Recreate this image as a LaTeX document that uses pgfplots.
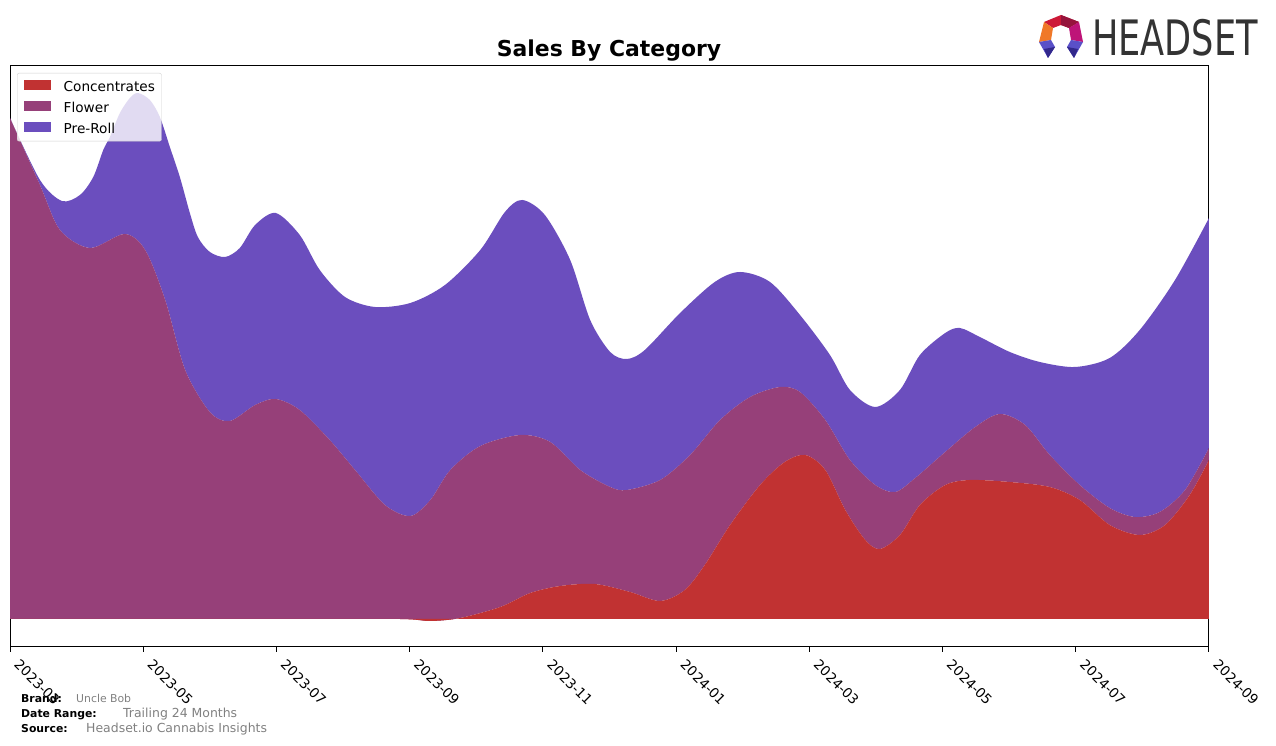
\documentclass[border=0pt]{standalone}
\usepackage{pgfplots}
\pgfplotsset{compat=1.18}
\usepgfplotslibrary{fillbetween}
\usepackage{fontspec}
\setmainfont{DejaVu Sans}
\definecolor{conc}{RGB}{193,50,50}
\definecolor{flower}{RGB}{150,64,121}
\definecolor{preroll}{RGB}{107,78,190}
\definecolor{foot}{RGB}{128,128,128}
\newcommand{\legpatch}[1]{\path[draw=none, fill=none] (0bp,-0.5bp) rectangle (27bp,9.5bp);\begin{pgfinterruptboundingbox}\path[fill=#1, draw=none, fill opacity=1, sharp corners] (0bp,-2.5bp) rectangle (27bp,7.5bp);\end{pgfinterruptboundingbox}}
\begin{document}
\begin{tikzpicture}[x=1bp,y=1bp]
\path (0,0) rectangle (1276,746);
\begin{axis}[
  at={(10bp,99bp)}, anchor=south west,
  width=1199bp, height=581bp, scale only axis,
  xmin=0, xmax=18, ymin=-28, ymax=553,
  xtick={0,2,...,18},
  xticklabels={2023-03,2023-05,2023-07,2023-09,2023-11,2024-01,2024-03,2024-05,2024-07,2024-09},
  xticklabel style={rotate=-45, anchor=north west, inner sep=0pt, xshift=12bp, yshift=3bp, font=\fontsize{13.7}{15}\selectfont},
  ytick=\empty,
  xtick pos=lower,
  tick align=outside,
  major tick length=5bp,
  tick style={black, line width=1bp},
  axis line style={line width=1bp},
  legend style={at={(0,1)}, anchor=north west, xshift=7bp, yshift=-7bp,
    draw=black!18, rounded corners=2bp, fill=white, fill opacity=0.8, text opacity=1,
    font=\fontsize{13.7}{15}\selectfont, inner xsep=6.5bp, inner ysep=5bp, row sep=5bp, column sep=13bp,
    nodes={inner sep=0pt, text height=10bp, text depth=3bp}},
  legend cell align=left,
]
\addplot[name path=base, draw=none, forget plot] coordinates {(0,0) (18,0)};
\addplot[name path=P, draw=none, smooth, tension=0.5, forget plot] table {
x y
0 501
0.45 439
0.78 418
1.05 424
1.25 442
1.40 469
1.50 482
1.65 506
1.80 521
1.92 526
2.10 519
2.25 502
2.40 472
2.55 442
2.70 406
2.82 382
3.00 367
3.23 362
3.45 371
3.68 394
3.99 406
4.35 384
4.65 349
5.03 322
5.48 312
6.01 316
6.53 334
7.06 369
7.43 407
7.69 419
8.03 404
8.41 359
8.71 299
9.01 267
9.26 260
9.53 269
10.06 306
10.58 337
10.96 347
11.41 337
11.86 304
12.31 264
12.61 229
12.99 212
13.36 229
13.66 264
14.04 286
14.26 291
14.56 282
15.01 267
15.46 257
15.99 252
16.51 261
16.96 289
17.49 339
18 401
};
\addplot[name path=F, draw=none, smooth, tension=0.5, forget plot] table {
x y
0 501
0.45 434
0.75 389
1.20 371
1.72 385
2.03 369
2.33 319
2.63 249
3.00 207
3.30 198
3.68 214
3.99 220
4.35 209
4.80 179
5.18 149
5.63 114
6.01 103
6.31 119
6.61 149
7.06 173
7.66 184
8.11 177
8.56 149
9.01 132
9.26 129
9.76 139
10.21 164
10.66 199
11.11 222
11.56 232
11.86 227
12.24 199
12.61 159
12.99 134
13.29 127
13.59 141
14.04 167
14.49 192
14.86 205
15.24 194
15.61 164
16.06 134
16.51 111
16.89 102
17.26 107
17.64 129
18 171
};
\addplot[name path=C, draw=none, smooth, tension=0.5, forget plot] table {
x y
0 0
2 0
4 0
5.85 0
6.31 -2
6.76 1
7.36 12
7.81 26
8.26 33
8.78 35
9.31 27
9.76 18
10.13 29
10.43 54
10.81 94
11.26 134
11.63 157
11.94 164
12.24 149
12.54 109
12.84 79
13.06 70
13.36 84
13.66 114
14.04 134
14.41 139
15.01 137
15.61 132
16.06 119
16.51 94
16.96 84
17.34 94
17.71 124
18 159
};
\addplot[fill=preroll, draw=none, forget plot] fill between[of=P and F];
\addplot[fill=flower, draw=none, forget plot] fill between[of=F and C];
\addplot[fill=conc, draw=none, forget plot] fill between[of=C and base];
\addlegendimage{legend image code/.code={\legpatch{conc}}}
\addlegendentry{Concentrates}
\addlegendimage{legend image code/.code={\legpatch{flower}}}
\addlegendentry{Flower}
\addlegendimage{legend image code/.code={\legpatch{preroll}}}
\addlegendentry{Pre-Roll}
\end{axis}
% title
\node[anchor=base, font=\fontsize{22}{24}\selectfont\bfseries] at (609,689) {Sales By Category};
% footer
\node[anchor=base west, inner sep=0, font=\fontsize{10.9}{12}\selectfont\bfseries] at (21,43) {Brand:};
\node[anchor=base west, inner sep=0, text=foot, font=\fontsize{10.9}{12}\selectfont] at (76,43) {Uncle Bob};
\node[anchor=base west, inner sep=0, font=\fontsize{10.9}{12}\selectfont\bfseries] at (21,28) {Date Range:};
\node[anchor=base west, inner sep=0, text=foot, font=\fontsize{12.5}{14}\selectfont] at (123,28) {Trailing 24 Months};
\node[anchor=base west, inner sep=0, font=\fontsize{10.9}{12}\selectfont\bfseries] at (21,13) {Source:};
\node[anchor=base west, inner sep=0, text=foot, font=\fontsize{12.5}{14}\selectfont] at (86,13) {Headset.io Cannabis Insights};
% logo
\fill[fill={rgb,255:red,205;green,25;blue,55}] (1061,731) -- (1079,724) -- (1069,718) -- (1061,721) -- (1053,718) -- (1044,724) -- cycle;
\fill[fill={rgb,255:red,150;green,20;blue,60}] (1061,731) -- (1079,724) -- (1069,718) -- (1061,721) -- cycle;
\fill[fill={rgb,255:red,240;green,120;blue,40}] (1044,724) -- (1053,718) -- (1051,706) -- (1039,704) -- cycle;
\fill[fill={rgb,255:red,190;green,20;blue,120}] (1079,724) -- (1069,718) -- (1071,706) -- (1083,704) -- cycle;
\fill[fill={rgb,255:red,90;green,80;blue,200}] (1039,704) -- (1051,706) -- (1055,699) -- (1048,688) -- cycle;
\fill[fill={rgb,255:red,90;green,80;blue,200}] (1083,704) -- (1071,706) -- (1067,699) -- (1074,688) -- cycle;
\fill[fill={rgb,255:red,50;green,40;blue,140}] (1055,699) -- (1048,688) -- (1044,697) -- cycle;
\fill[fill={rgb,255:red,50;green,40;blue,140}] (1067,699) -- (1074,688) -- (1078,697) -- cycle;
\node[anchor=base west, inner sep=0, text={rgb,255:red,51;green,51;blue,51}, font=\fontsize{49}{50}\selectfont] at (1092,690) {\scalebox{0.72}[1]{HEADSET}};
\end{tikzpicture}
\end{document}
